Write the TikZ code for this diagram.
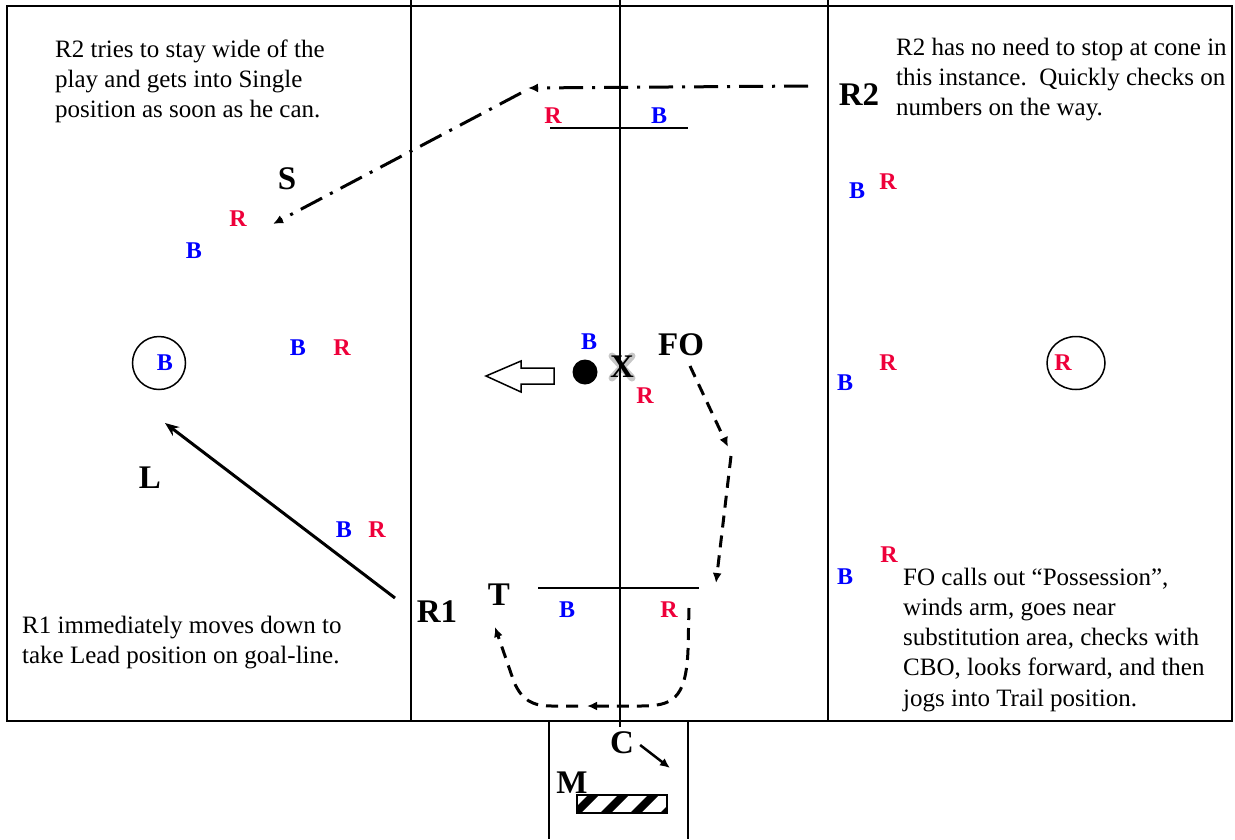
\documentclass[tikz,border=0pt]{standalone}
\usepackage{fontspec}
\setmainfont{Liberation Serif}
\usetikzlibrary{arrows.meta}
\definecolor{pred}{RGB}{238,0,58}
\definecolor{pblue}{RGB}{0,0,255}
\begin{document}
\begin{tikzpicture}[x=1pt,y=-1pt,
  field/.style={line width=1.5},
  bl/.style={text=pblue,font=\fontsize{24}{24}\selectfont\bfseries,inner sep=0},
  rd/.style={text=pred,font=\fontsize{24}{24}\selectfont\bfseries,inner sep=0},
  lab/.style={font=\fontsize{33}{33}\selectfont\bfseries,inner sep=0},
  txt/.style={font=\fontsize{25}{30.3}\selectfont,align=left,inner sep=0,anchor=base west},
  mv/.style={line width=3,dash pattern=on 12pt off 8pt,-{Latex[length=10,width=9]}},
  dd/.style={line width=3,dash pattern=on 24pt off 9pt on 3pt off 9pt,-{Latex[length=10,width=9]}},
  run/.style={line width=3,-{Stealth[length=14,width=11]}},
  glow/.style={line width=7,line cap=round,black,opacity=0.22}]
\useasboundingbox (0,0) rectangle (1235,839);
% field
\draw[line width=2] (7,6) rectangle (1232,721);
\draw[field] (411,0) -- (411,721);
\draw[field] (620,0) -- (620,727);
\draw[field] (828,0) -- (828,721);
\draw[line width=2.5] (828,42) -- (828,138);
\draw[field] (550,128) -- (688,128);
\draw[field] (538,588) -- (699,588);
\draw[field] (549,721) -- (549,839);
\draw[field] (688,721) -- (688,839);
% circles
\draw[line width=1.5] (159,363) circle (26.5);
\draw[line width=1.5] (1076,363) ellipse [x radius=29, y radius=26.5];
% texts (anchored at the baseline of their last line)
\node[txt] (t1) at (55,117.6) {R2 tries to stay wide of the\\play and gets into Single\\position as soon as he can.};
\node[txt] (t2) at (896,115.6) {R2 has no need to stop at cone in\\this instance.\ \ Quickly checks on\\numbers on the way.};
\node[txt] (t3) at (22,663.3) {R1 immediately moves down to\\take Lead position on goal-line.};
\node[txt] (t4) at (903,706.2) {FO calls out “Possession”,\\winds arm, goes near\\substitution area, checks with\\CBO, looks forward, and then\\jogs into Trail position.};
% players
\node[rd] (r1) at (553,116) {R};
\node[bl] (b1) at (659,116) {B};
\node[rd] (r2) at (238,219) {R};
\node[bl] (b2) at (194,251) {B};
\node[bl] (b3) at (857,191) {B};
\node[rd] (r3) at (888,182) {R};
\node[bl] (b4) at (165,363) {B};
\node[bl] (b5) at (298,348) {B};
\node[rd] (r5) at (342,348) {R};
\node[bl] (b6) at (589,342) {B};
\node[rd] (r6) at (645,396) {R};
\node[bl] (b7) at (845,383) {B};
\node[rd] (r7) at (888,363) {R};
\node[rd] (r8) at (1063,363) {R};
\node[bl] (b9) at (344,530) {B};
\node[rd] (r9) at (377,530) {R};
\node[bl] (b10) at (567,610) {B};
\node[rd] (r10) at (669,610) {R};
\node[bl] (b11) at (845,577) {B};
\node[rd] (r11) at (889,555) {R};
% officials
\node[lab] (R2) at (859,95) {R2};
\node[lab] (S) at (287,179) {S};
\node[lab] (L) at (150,478) {L};
\node[lab] (R1) at (437,612) {R1};
\node[lab] (T) at (499,595) {T};
\node[lab] (FO) at (681,345) {FO};
\node[lab] (C) at (622,743) {C};
\node[lab] (M) at (572,783) {M};
% X with soft shadow
\draw[glow] (612,356) -- (632,378) (632,356) -- (612,378);
\node[lab] (X) at (622,367) {X};
% ball
\fill (585,372) circle (12.5);
% block arrow
\draw[line width=1.5,fill=white] (486,376) -- (521,361) -- (521,368) -- (554,368) -- (554,384) -- (521,384) -- (521,392) -- cycle;
% table
\begin{scope}
\clip (577,795) rectangle (667,813);
\foreach \i in {0,1,2,3}
  \fill (570+\i*30,813) -- (581+\i*30,813) -- (599+\i*30,795) -- (588+\i*30,795) -- cycle;
\end{scope}
\draw[line width=1.5] (577,795) rectangle (667,813);
% movements
\coordinate (d0) at (808,86);
\coordinate (d1) at (528,88);
\coordinate (d2) at (521,93);
\coordinate (d3) at (273,224);
\draw[dd] (d0) -- (d1);
\draw[dd] (d2) -- (d3);
\coordinate (l0) at (395,598);
\coordinate (l1) at (165,423);
\draw[run] (l0) -- (l1);
\coordinate (f0) at (690,366);
\coordinate (f1) at (728,447);
\coordinate (f2) at (731,456);
\coordinate (f3) at (716,583);
\draw[mv] (f0) -- (f1);
\draw[mv] (f2) -- (f3);
\coordinate (g0) at (689,608);
\coordinate (g1) at (587,706);
\coordinate (g2) at (578,706);
\coordinate (g3) at (495,627);
\draw[mv] (g0) -- (688,650) .. controls (686,700) and (672,706) .. (640,706) -- (g1);
\draw[mv] (g2) -- (552,706) .. controls (532,706) and (522,700) .. (514,682) -- (g3);
\coordinate (c1) at (670,768);
\draw[line width=2.5,-{Latex[length=10,width=9]}] (C.east) ++(6,2) -- (c1);
\end{tikzpicture}
\end{document}
